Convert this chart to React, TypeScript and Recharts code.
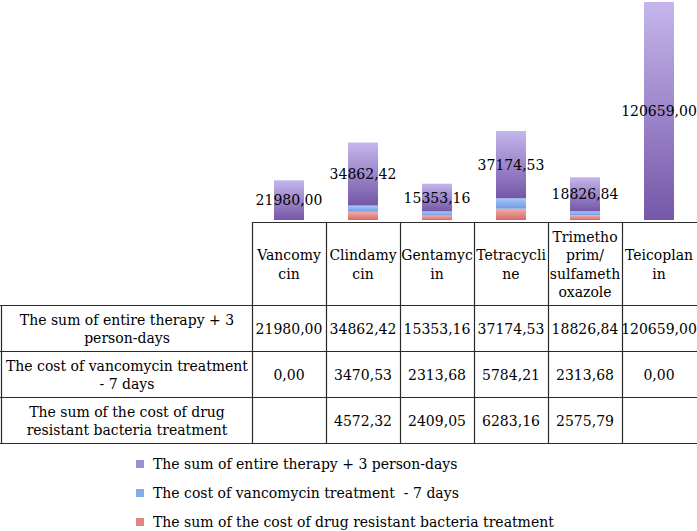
import React from "react";
import { BarChart, Bar, XAxis, YAxis, LabelList } from "recharts";

const categories = ["Vancomycin", "Clindamycin", "Gentamycin", "Tetracycline", "Trimethoprim/sulfamethoxazole", "Teicoplanin"];
const headerLines = [
  ["Vancomy", "cin"],
  ["Clindamy", "cin"],
  ["Gentamyc", "in"],
  ["Tetracycli", "ne"],
  ["Trimetho", "prim/", "sulfameth", "oxazole"],
  ["Teicoplan", "in"],
];
const sumTherapy = [21980.0, 34862.42, 15353.16, 37174.53, 18826.84, 120659.0];
const vancoCost = [0.0, 3470.53, 2313.68, 5784.21, 2313.68, 0.0];
const resistantCost: (number | null)[] = [null, 4572.32, 2409.05, 6283.16, 2575.79, null];

const seriesNames = [
  "The sum of entire therapy + 3 person-days",
  "The cost of vancomycin treatment  - 7 days",
  "The sum of the cost of drug resistant bacteria treatment",
];
const rowLabelLines = [
  ["The sum of entire therapy + 3", "person-days"],
  ["The cost of vancomycin treatment", "- 7 days"],
  ["The sum of the cost of drug", "resistant bacteria treatment"],
];

const data = categories.map((c, i) => ({
  name: c,
  sum: sumTherapy[i],
  vanco: vancoCost[i],
  resist: resistantCost[i],
}));

const fmt = (v: number | null | undefined) =>
  v === null || v === undefined ? "" : Number(v).toFixed(2).replace(".", ",");

const FONT = "'DejaVu Serif', serif";
const FS = 14;
const W = 697;
const H = 531;
const PLOT_LEFT = 252;
const PLOT_RIGHT = 696;
const PLOT_BOTTOM = 220;
const COL_W = (PLOT_RIGHT - PLOT_LEFT) / categories.length;
const TABLE_TOP = 222;
const ROWS = [305, 351, 397, 443];
const LINE_H = 18.5;
const LINE_COLOR = "#2a2a2a";

const colors = {
  sum: ["#c5b6ec", "#7557a8"],
  vanco: ["#a9c7f8", "#6e9ae4"],
  resist: ["#f3aca9", "#d56b68"],
};
const legendSwatch = ["#a28ad6", "#86aaf0", "#e28683"];

function MultiLine({ x, cy, lines, anchor = "middle" }: { x: number; cy: number; lines: string[]; anchor?: string }) {
  const start = cy - ((lines.length - 1) * LINE_H) / 2;
  return (
    <text x={x} textAnchor={anchor as any} fontFamily={FONT} fontSize={FS} fill="#000">
      {lines.map((l, i) => (
        <tspan key={i} x={x} y={start + i * LINE_H} dominantBaseline="central">
          {l}
        </tspan>
      ))}
    </text>
  );
}

function TableOverlay() {
  const colXs = categories.map((_, i) => PLOT_LEFT + i * COL_W);
  const rowsVals = [sumTherapy, vancoCost, resistantCost];
  return (
    <svg width={W} height={H} style={{ position: "absolute", left: 0, top: 0, pointerEvents: "none" }}>
      <line x1={PLOT_LEFT} x2={W} y1={TABLE_TOP + 0.5} y2={TABLE_TOP + 0.5} stroke={LINE_COLOR} strokeWidth={1.2} />
      {ROWS.map((y, i) => (
        <line key={i} x1={0} x2={W} y1={y + 0.5} y2={y + 0.5} stroke={LINE_COLOR} strokeWidth={1.2} />
      ))}
      <line x1={1.5} x2={1.5} y1={ROWS[0]} y2={ROWS[3] + 1} stroke={LINE_COLOR} strokeWidth={1.2} />
      {colXs.map((x, i) => (
        <line key={i} x1={Math.round(x) + 0.5} x2={Math.round(x) + 0.5} y1={TABLE_TOP} y2={ROWS[3] + 1} stroke={LINE_COLOR} strokeWidth={1.2} />
      ))}
      {headerLines.map((lines, i) => (
        <MultiLine key={i} x={PLOT_LEFT + (i + 0.5) * COL_W} cy={(TABLE_TOP + ROWS[0]) / 2 + 1} lines={lines} />
      ))}
      {rowLabelLines.map((lines, r) => (
        <MultiLine key={r} x={127} cy={(ROWS[r] + ROWS[r + 1]) / 2 + 1} lines={lines} />
      ))}
      {rowsVals.map((vals, r) =>
        vals.map((v, i) => (
          <text
            key={r + "-" + i}
            x={PLOT_LEFT + (i + 0.5) * COL_W}
            y={(ROWS[r] + ROWS[r + 1]) / 2 + 1}
            textAnchor="middle"
            dominantBaseline="central"
            fontFamily={FONT}
            fontSize={FS}
            fill="#000"
          >
            {fmt(v as number | null)}
          </text>
        ))
      )}
      {seriesNames.map((n, i) => (
        <g key={i}>
          <rect x={136} y={460 + i * 29} width={8} height={8} fill={legendSwatch[i]} />
          <text
            x={153}
            y={464 + i * 29}
            dominantBaseline="central"
            fontFamily={FONT}
            fontSize={FS}
            fill="#000"
            style={{ whiteSpace: "pre" }}
          >
            {n}
          </text>
        </g>
      ))}
    </svg>
  );
}

export default function App() {
  return (
    <div style={{ position: "absolute", left: 0, top: 0, width: W, height: H, background: "#fff" }}>
      <BarChart
        width={W}
        height={H}
        data={data}
        margin={{ top: 2, right: W - PLOT_RIGHT, left: PLOT_LEFT, bottom: H - PLOT_BOTTOM }}
        barSize={30}
      >
        <defs>
          {Object.entries(colors).map(([k, [a, b]]) => (
            <linearGradient key={k} id={"grad-" + k} x1="0" y1="0" x2="0" y2="1">
              <stop offset="0%" stopColor={a} />
              <stop offset="100%" stopColor={b} />
            </linearGradient>
          ))}
        </defs>
        <XAxis dataKey="name" hide />
        <YAxis hide domain={[0, 120659]} />
        <Bar dataKey="resist" stackId="a" fill="url(#grad-resist)" isAnimationActive={false} />
        <Bar dataKey="vanco" stackId="a" fill="url(#grad-vanco)" isAnimationActive={false} />
        <Bar dataKey="sum" stackId="a" fill="url(#grad-sum)" isAnimationActive={false}>
          <LabelList
            dataKey="sum"
            position="center"
            formatter={(v: any) => fmt(v)}
            fill="#000"
            fontFamily={FONT}
            fontSize={FS}
          />
        </Bar>
      </BarChart>
      <TableOverlay />
    </div>
  );
}
